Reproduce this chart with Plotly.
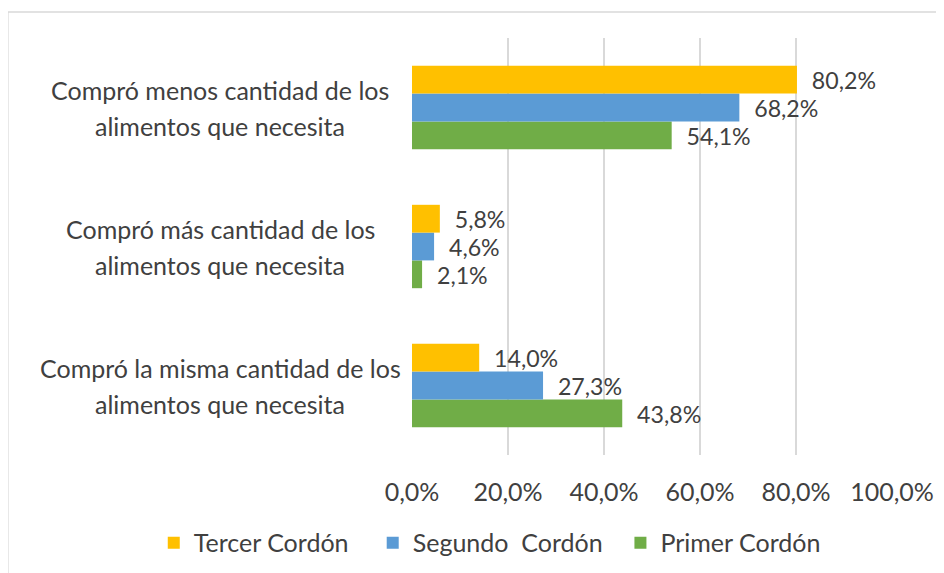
import plotly.graph_objects as go

# categorias (de abajo hacia arriba en el eje)
categorias = ["Compró la misma cantidad de los<br>alimentos que necesita",
              "Compró más cantidad de los<br>alimentos que necesita",
              "Compró menos cantidad de los<br>alimentos que necesita"]

series = ["Primer Cordón", "Segundo  Cordón", "Tercer Cordón"]
primer = [43.8, 2.1, 54.1]
segundo = [27.3, 4.6, 68.2]
tercer = [14.0, 5.8, 80.2]
valores = [primer, segundo, tercer]
colores = ["#70AD47", "#5B9BD5", "#FFC000"]

ticks = [0, 20, 40, 60, 80, 100]
ticktext = [f"{t:.1f}".replace(".", ",") + "%" for t in ticks]

fuente = "Lato"
gris = "#404040"

# relleno a la derecha del nombre en la leyenda (espaciado como en Excel)
relleno = {"Primer Cordón": "", "Segundo  Cordón": "\u00a0\u00a0", "Tercer Cordón": "\u00a0\u00a0\u00a0"}

fig = go.Figure()
for nombre, vals, col in zip(series, valores, colores):
    fig.add_trace(go.Bar(
        y=categorias,
        x=vals,
        name=nombre + relleno[nombre],
        orientation="h",
        marker=dict(color=col, line=dict(width=0)),
        text=vals,
        texttemplate="\u00a0\u00a0%{x:.1f}%",
        textposition="outside",
        textfont=dict(family=fuente, size=25, color=gris),
        cliponaxis=False,
    ))

# etiquetas de categoria centradas (una anotacion por linea, interlineado amplio)
for cat in categorias:
    lineas = cat.split("<br>")
    for i, linea in enumerate(lineas):
        fig.add_annotation(
            x=-0.05, xref="paper", y=cat, yref="y",
            text=linea, showarrow=False, xanchor="center", yanchor="middle",
            xshift=-168, yshift=18 - 36 * i,
            font=dict(family=fuente, size=25, color=gris),
        )

# borde del grafico
fig.add_shape(type="line", xref="paper", yref="paper",
              x0=-0.842, x1=1.2, y0=1.0624, y1=1.0624,
              line=dict(color="#d9d9d9", width=1.5))
fig.add_shape(type="line", xref="paper", yref="paper",
              x0=-0.842, x1=-0.842, y0=1.0624, y1=-0.3,
              line=dict(color="#d9d9d9", width=1.5))

fig.update_layout(
    width=936, height=565,
    margin=dict(l=404, r=52, t=30, b=118, autoexpand=False),
    paper_bgcolor="white", plot_bgcolor="white",
    barmode="group", bargap=0.4, bargroupgap=0,
    separators=",.",
    font=dict(family=fuente, size=25, color=gris),
    legend=dict(orientation="h", traceorder="reversed",
                x=-0.538, xanchor="left",
                y=-0.211, yanchor="middle",
                font=dict(family=fuente, size=25, color=gris),
                itemwidth=30),
    showlegend=True,
)
fig.update_xaxes(range=[0, 100], tickvals=ticks, ticktext=ticktext,
                 showgrid=True, gridcolor="#d9d9d9", gridwidth=1.5,
                 zeroline=False, showline=False, ticks="",
                 ticklabelstandoff=20, automargin=False,
                 tickfont=dict(family=fuente, size=25, color=gris))
fig.update_yaxes(showticklabels=False, showgrid=False, zeroline=False,
                 showline=False, automargin=False)

fig.write_html("out.html")
